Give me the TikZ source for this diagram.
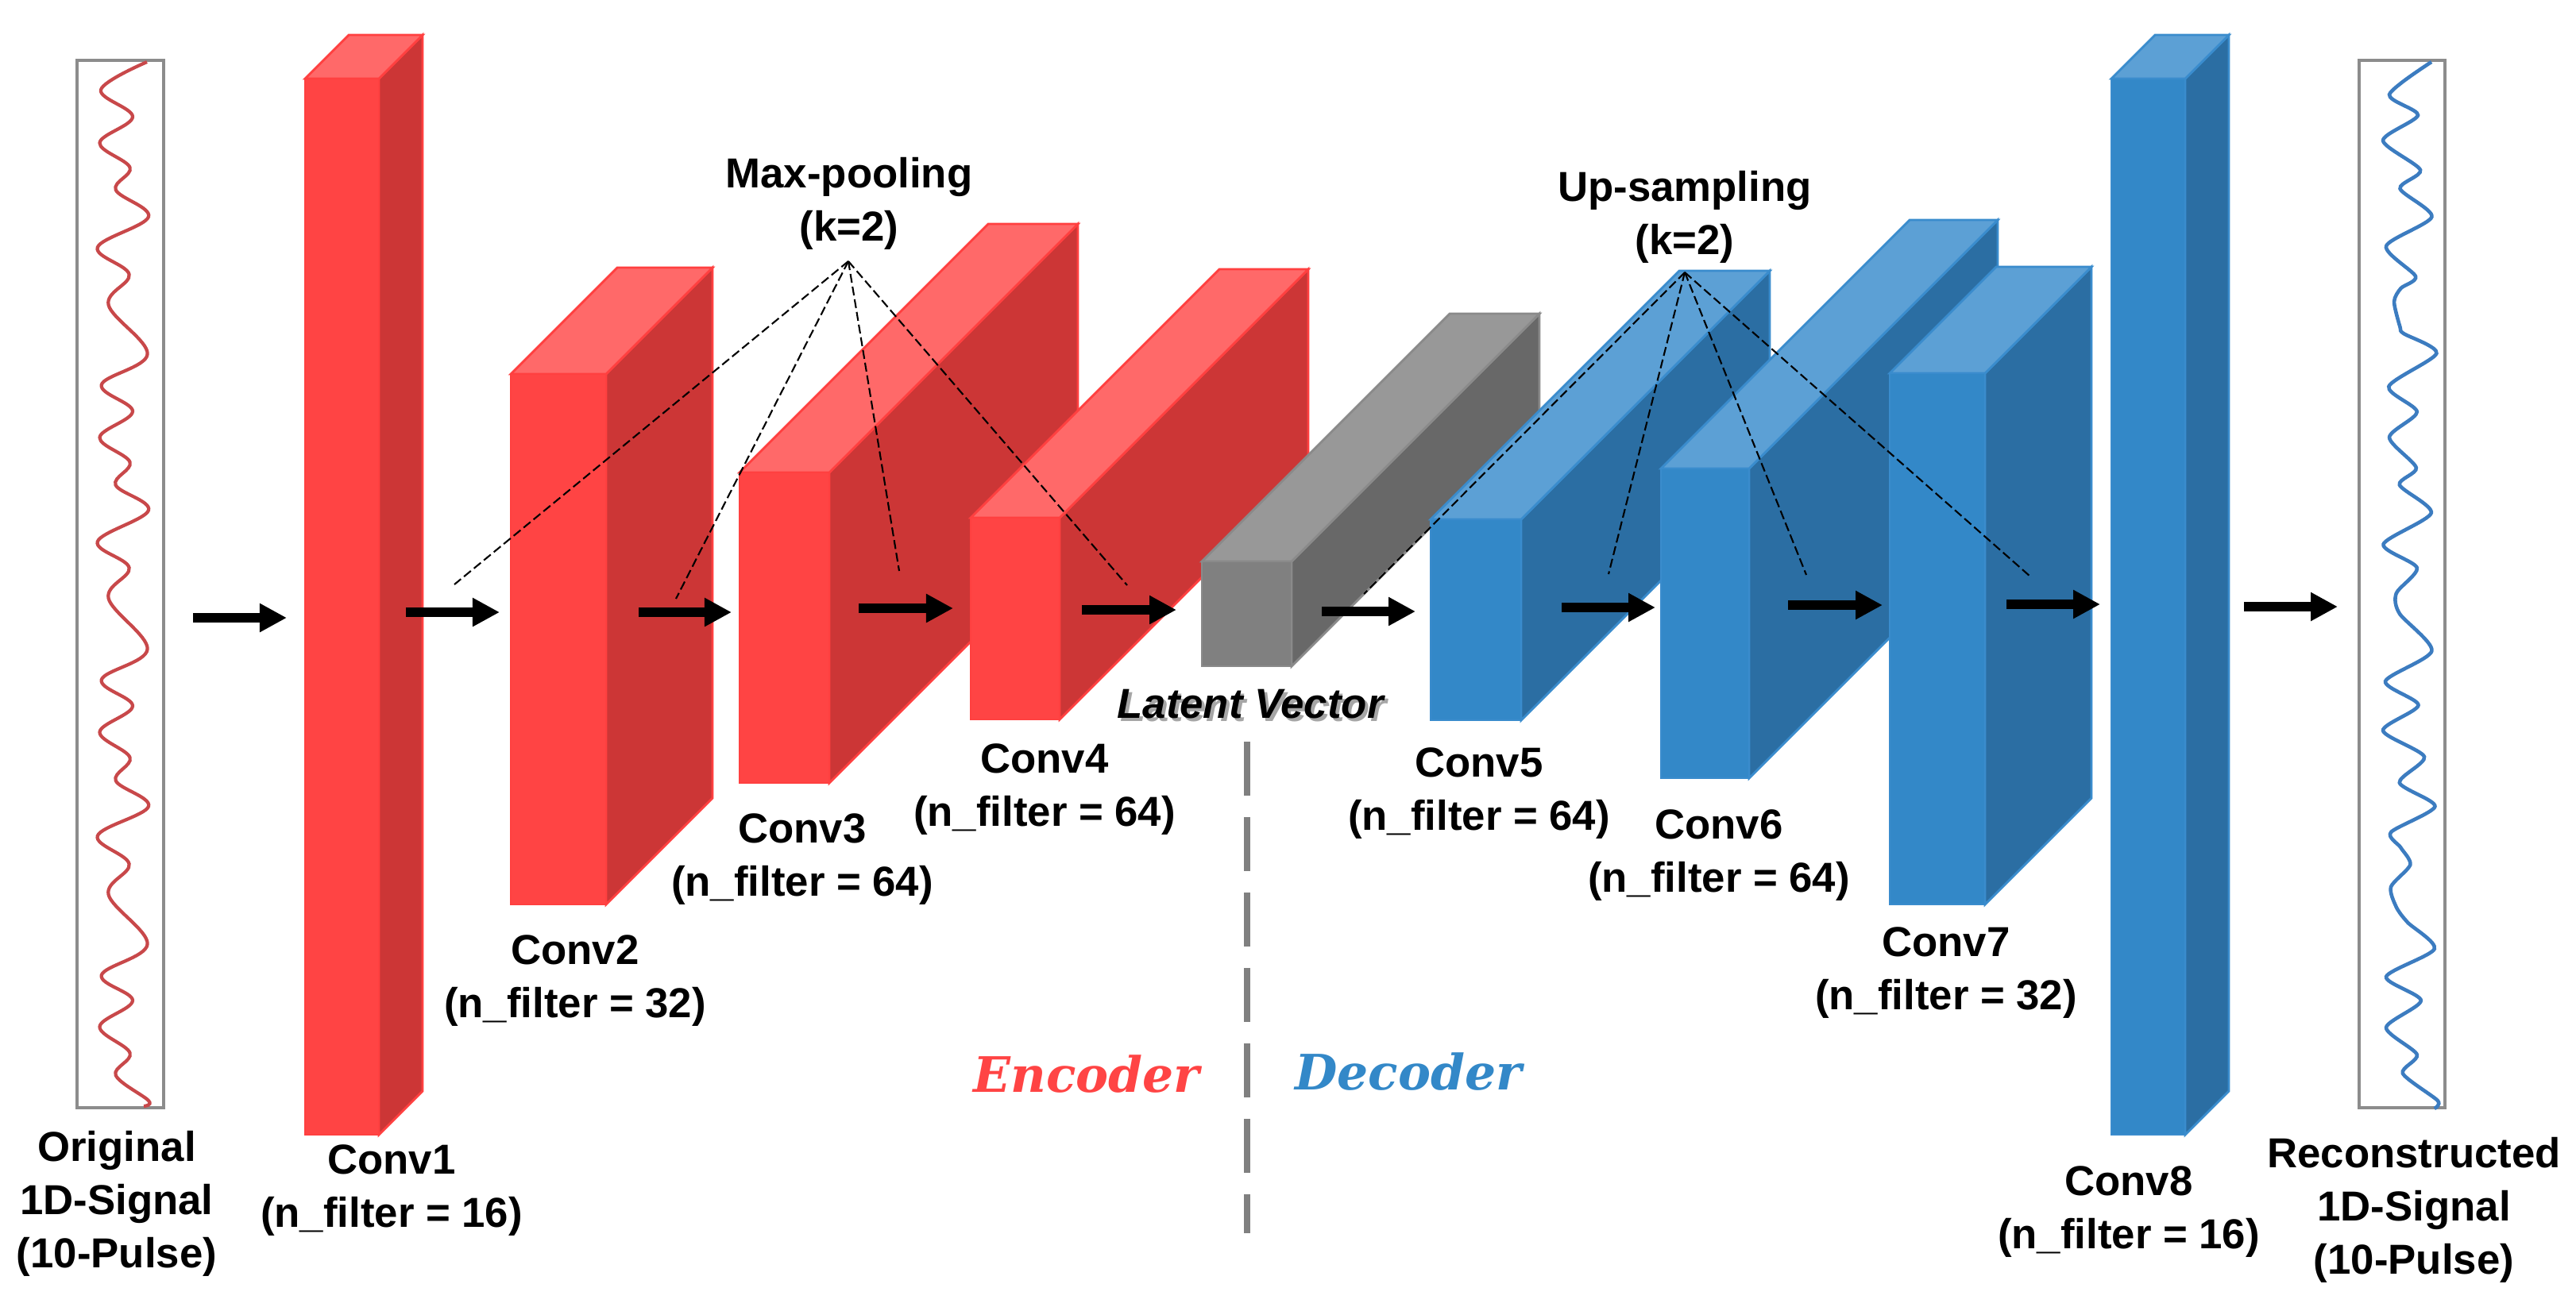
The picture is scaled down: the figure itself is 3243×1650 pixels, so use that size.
\documentclass[tikz,border=0pt]{standalone}
\usepackage{fontspec}
\setmainfont{Liberation Sans}
\newfontfamily\codecfont{DejaVu Serif}
\usetikzlibrary{arrows.meta}

\definecolor{redfront}{HTML}{FF4444}
\definecolor{redside}{HTML}{CC3636}
\definecolor{redtop}{HTML}{FF6969}
\definecolor{rededge}{HTML}{FF4040}
\definecolor{bluefront}{HTML}{3388C8}
\definecolor{blueside}{HTML}{2B6EA3}
\definecolor{bluetop}{HTML}{5CA0D5}
\definecolor{blueedge}{HTML}{3A8CCD}
\definecolor{greyfront}{HTML}{808080}
\definecolor{greyside}{HTML}{686868}
\definecolor{greytop}{HTML}{989898}
\definecolor{greyedge}{HTML}{8A8A8A}
\definecolor{sigred}{HTML}{C8484A}
\definecolor{sigblue}{HTML}{3C7CC0}

% x left, y top (front), width, y bottom, depth, colour set
\newcommand{\convblock}[6]{%
  \filldraw[face, fill=#6side, draw=#6edge] (#1+#3,#2) -- (#1+#3+#5,#2-#5) -- (#1+#3+#5,#4-#5) -- (#1+#3,#4) -- cycle;
  \filldraw[face, fill=#6top, draw=#6edge] (#1,#2) -- (#1+#5,#2-#5) -- (#1+#3+#5,#2-#5) -- (#1+#3,#2) -- cycle;
  \filldraw[face, fill=#6front, draw=#6edge] (#1,#2) rectangle (#1+#3,#4);
}

\begin{document}
\begin{tikzpicture}[x=0.01cm, y=-0.01cm,
  convtext/.style={font=\bfseries\fontsize{15}{19}\selectfont, align=center},
  codectext/.style={font=\codecfont\bfseries\itshape\fontsize{17.5}{21}\selectfont},
  latenttext/.style={font=\bfseries\itshape\fontsize{15}{18}\selectfont},
  fatarrow/.style={line width=3.4pt, -{Triangle[length=0.34cm, width=0.34cm]}},
  poolline/.style={line width=0.6pt, dash pattern=on 3.2pt off 1.4pt},
  divider/.style={draw=greyfront, line width=2.3pt, dash pattern=on 19.3pt off 7.7pt},
  sigbox/.style={draw=black!45, line width=0.9pt},
  face/.style={line width=0.8pt}]
  \useasboundingbox (0,0) rectangle (3243,1650);

  % input and output signals
  \draw[sigbox] (97,76) rectangle (206,1395);
  \draw[sigred, line width=1.2pt] plot[smooth, tension=0.6] coordinates {
    (185,78) (127,113) (167,147) (125.5,180) (163.6,211) (145.7,239) (187,273)
    (122.8,311.5) (162.6,345.6) (136.6,384) (185.6,446) (127.8,484.5) (167,518)
    (125.5,551) (163.6,582) (145.5,610.6) (187,642.6) (122.8,682) (162.6,715)
    (136.6,753.5) (185.6,817.6) (127.8,856) (167,889) (125.5,922) (163.6,954)
    (145.7,983) (187,1015.5) (122.8,1052.6) (162.6,1088) (136.6,1126.6)
    (185.6,1189) (127.8,1228) (167,1260) (125.5,1293) (163.6,1326) (145.7,1354)
    (187,1386) (181,1393)};
  \draw[sigbox] (2970,76) rectangle (3078,1395);
  \draw[sigblue, line width=1.3pt] plot[smooth, tension=0.45] coordinates {
    (3061,78) (3008,119) (3044,145) (3000,177) (3047,214) (3021.5,237.5)
    (3061.4,273) (3004,310) (3041,348) (3022.5,363) (3014,380) (3021.5,412)
    (3026,420) (3067.4,445) (3007.3,486.7) (3042.8,518.7) (3008,550.8)
    (3041.8,589) (3020.8,610.6) (3060.7,646) (3000.5,685.4) (3042.8,715)
    (3016.8,747) (3020.8,772.7) (3061.4,819.7) (3003,858) (3044.5,888)
    (3000,920) (3052,953) (3020.8,985.6) (3065.4,1015.5) (3010,1048)
    (3022.5,1067.6) (3034.3,1089) (3010,1116.8) (3016.8,1142.4) (3031,1161.6)
    (3064.7,1195) (3004,1230) (3047.8,1260) (3004,1294) (3042.8,1328)
    (3024.9,1351.8) (3068.8,1386) (3064.7,1396)};

  % encoder
  \convblock{384}{99}{93}{1429}{55}{red}
  \convblock{643}{471}{120}{1139}{134}{red}
  \convblock{931}{595}{113}{986}{313}{red}
  \convblock{1222}{652}{112}{906}{313}{red}
  % latent
  \convblock{1513}{707}{113}{839}{312}{grey}
  % decoder
  \convblock{1801}{654}{114}{907}{313}{blue}
  \convblock{2091}{590}{111}{980}{313}{blue}
  \convblock{2379}{470}{120}{1139}{134}{blue}
  \convblock{2658}{99}{93}{1429}{55}{blue}

  % arrows
  \foreach \i/\xa/\xb/\y in {1/243/361/778, 2/511/629/771, 3/804/921/771,
      4/1081/1200/766, 5/1362/1481/768, 6/1664/1782/770, 7/1966/2084/765,
      8/2251/2370/762, 9/2526/2644/761, 10/2825/2943/764}{
    \coordinate (s\i) at (\xa,\y);
    \coordinate (t\i) at (\xb,\y);
    \draw[fatarrow] (s\i) -- (t\i);
  }

  % pooling / sampling
  \node[convtext] (mptext) at (1069,256) {Max-pooling\\(k=2)};
  \coordinate (mp) at (1068,329);
  \foreach \i/\x/\y in {1/572/736, 2/851/754, 3/1132/719, 4/1419/737}{
    \coordinate (mp\i) at (\x,\y);
    \draw[poolline] (mp) -- (mp\i);
  }
  \node[convtext] (ustext) at (2121,273) {Up-sampling\\(k=2)};
  \coordinate (us) at (2121,343);
  \foreach \i/\x/\y in {1/1717/748, 2/2025/723, 3/2274/724, 4/2556/726}{
    \coordinate (us\i) at (\x,\y);
    \draw[poolline] (us) -- (us\i);
  }

  % labels
  \node[convtext] (orig) at (147,1516) {Original\\1D-Signal\\(10-Pulse)};
  \node[convtext] (c1) at (493,1499) {Conv1\\(n\_filter = 16)};
  \node[convtext] (c2) at (724,1235) {Conv2\\(n\_filter = 32)};
  \node[convtext] (c3) at (1010,1082) {Conv3\\(n\_filter = 64)};
  \node[convtext] (c4) at (1315,994) {Conv4\\(n\_filter = 64)};
  \node[latenttext, text=black!35] (latentshadow) at (1578,891) {Latent Vector};
  \node[latenttext] (latent) at (1574,887) {Latent Vector};
  \node[convtext] (c5) at (1862,999) {Conv5\\(n\_filter = 64)};
  \node[convtext] (c6) at (2164,1077) {Conv6\\(n\_filter = 64)};
  \node[convtext] (c7) at (2450,1225) {Conv7\\(n\_filter = 32)};
  \node[convtext] (c8) at (2680,1526) {Conv8\\(n\_filter = 16)};
  \node[convtext] (recon) at (3039,1524) {Reconstructed\\1D-Signal\\(10-Pulse)};

  % encoder / decoder split
  \coordinate (divtop) at (1570,934);
  \coordinate (divbot) at (1570,1553);
  \draw[divider] (divtop) -- (divbot);
  \node[codectext, text=redfront] (enc) at (1368,1353) {Encoder};
  \node[codectext, text=bluefront] (dec) at (1773,1350) {Decoder};
\end{tikzpicture}
\end{document}
